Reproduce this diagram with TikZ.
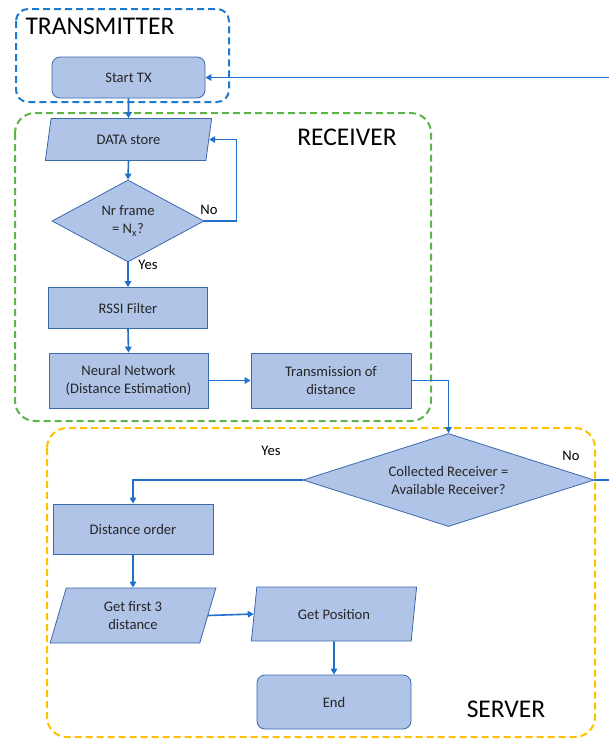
\documentclass[tikz,border=0pt]{standalone}
\usepackage{fontspec}
\setmainfont{Carlito}
\usetikzlibrary{shapes.geometric,arrows.meta}
\definecolor{boxfill}{HTML}{B0C4E8}
\definecolor{boxline}{HTML}{3A69AC}
\definecolor{arr}{HTML}{1F6FCB}
\definecolor{txblue}{HTML}{1C7BD0}
\definecolor{rxgreen}{HTML}{5DB54A}
\definecolor{svyellow}{HTML}{FFC000}
\definecolor{txt}{HTML}{262626}
\begin{document}
\begin{tikzpicture}[x=1pt,y=-1pt,
 base/.style={draw=boxline, fill=boxfill, line width=0.8pt, font=\fontsize{14.6}{18}\selectfont, align=center, inner sep=0pt, text=txt},
 procbox/.style={base, rectangle},
 roundbox/.style={base, rectangle, rounded corners=8pt},
 iobox/.style={base, trapezium, trapezium left angle=76, trapezium right angle=104, trapezium stretches=true},
 decbox/.style={base, diamond},
 flow/.style={draw=arr, line width=1.6pt, -{Triangle[length=6pt,width=6.5pt]}},
 group/.style={dash pattern=on 7pt off 4pt, line width=2pt, rounded corners=20pt},
 lbl/.style={font=\fontsize{14.6}{16}\selectfont, text=black},
 title/.style={font=\fontsize{25.5}{28}\selectfont, text=black}
]
\useasboundingbox (0,0) rectangle (609,740);

% groups
\draw[group, draw=txblue, rounded corners=12pt] (16,9) rectangle (229,102);
\draw[group, draw=rxgreen] (15,113) rectangle (431,421);
\draw[group, draw=svyellow] (47,428) rectangle (595,737);

\node[title] (ttx) at (100,26) {TRANSMITTER};
\node[title] (trx) at (347,137) {RECEIVER};
\node[title] (tsv) at (506,709) {SERVER};

% nodes
\node[roundbox, minimum width=153pt, minimum height=41pt] (start) at (128.5,77.5) {Start TX};
\node[iobox, minimum width=167pt, minimum height=42pt] (data) at (128.5,139.5) {DATA store};
\node[decbox, aspect=1.85, minimum width=152pt, minimum height=82pt] (nr) at (128,221) {Nr frame\\= N\textsubscript{x}?};
\node[procbox, minimum width=159pt, minimum height=41pt] (rssi) at (128,308) {RSSI Filter};
\node[procbox, minimum width=159pt, minimum height=55pt] (nn) at (128.5,380.5) {Neural Network\\(Distance Estimation)};
\node[procbox, minimum width=160pt, minimum height=55pt] (trans) at (331,380.5) {Transmission of\\distance};
\node[decbox, aspect=3.1, minimum width=291pt, minimum height=93pt] (coll) at (448.5,480) {Collected Receiver =\\Available Receiver?};
\node[procbox, minimum width=160pt, minimum height=50pt] (dist) at (133,529) {Distance order};
\node[iobox, minimum width=166pt, minimum height=55pt] (first) at (133,615.5) {Get first 3\\distance};
\node[iobox, minimum width=166pt, minimum height=54pt] (pos) at (334,614) {Get Position};
\node[roundbox, minimum width=154pt, minimum height=54pt] (end) at (334,702) {End};

% labels
\node[lbl] (lno1) at (209,210) {No};
\node[lbl] (lyes1) at (148,265) {Yes};
\node[lbl] (lyes2) at (271,451) {Yes};
\node[lbl] (lno2) at (571,456) {No};

% connectors
\coordinate (edge) at (612,480);
\draw[flow] (start.south) -- (data.north);
\draw[flow] (data.south) -- (nr.north);
\draw[flow] (nr.east) -- ++(32,0) |- (data.east);
\draw[flow] (nr.south) -- (rssi.north);
\draw[flow] (rssi.south) -- (nn.north);
\draw[flow] (nn.east) -- (trans.west);
\draw[flow] (trans.east) -| (coll.north);
\draw[flow] (coll.west) -| (dist.north);
\draw[flow] (dist.south) -- (first.north);
\draw[flow] (first.east) -- (pos.west);
\draw[flow] (pos.south) -- (end.north);
\draw[flow] (coll.east) -- (edge) |- (start.east);
\end{tikzpicture}
\end{document}
